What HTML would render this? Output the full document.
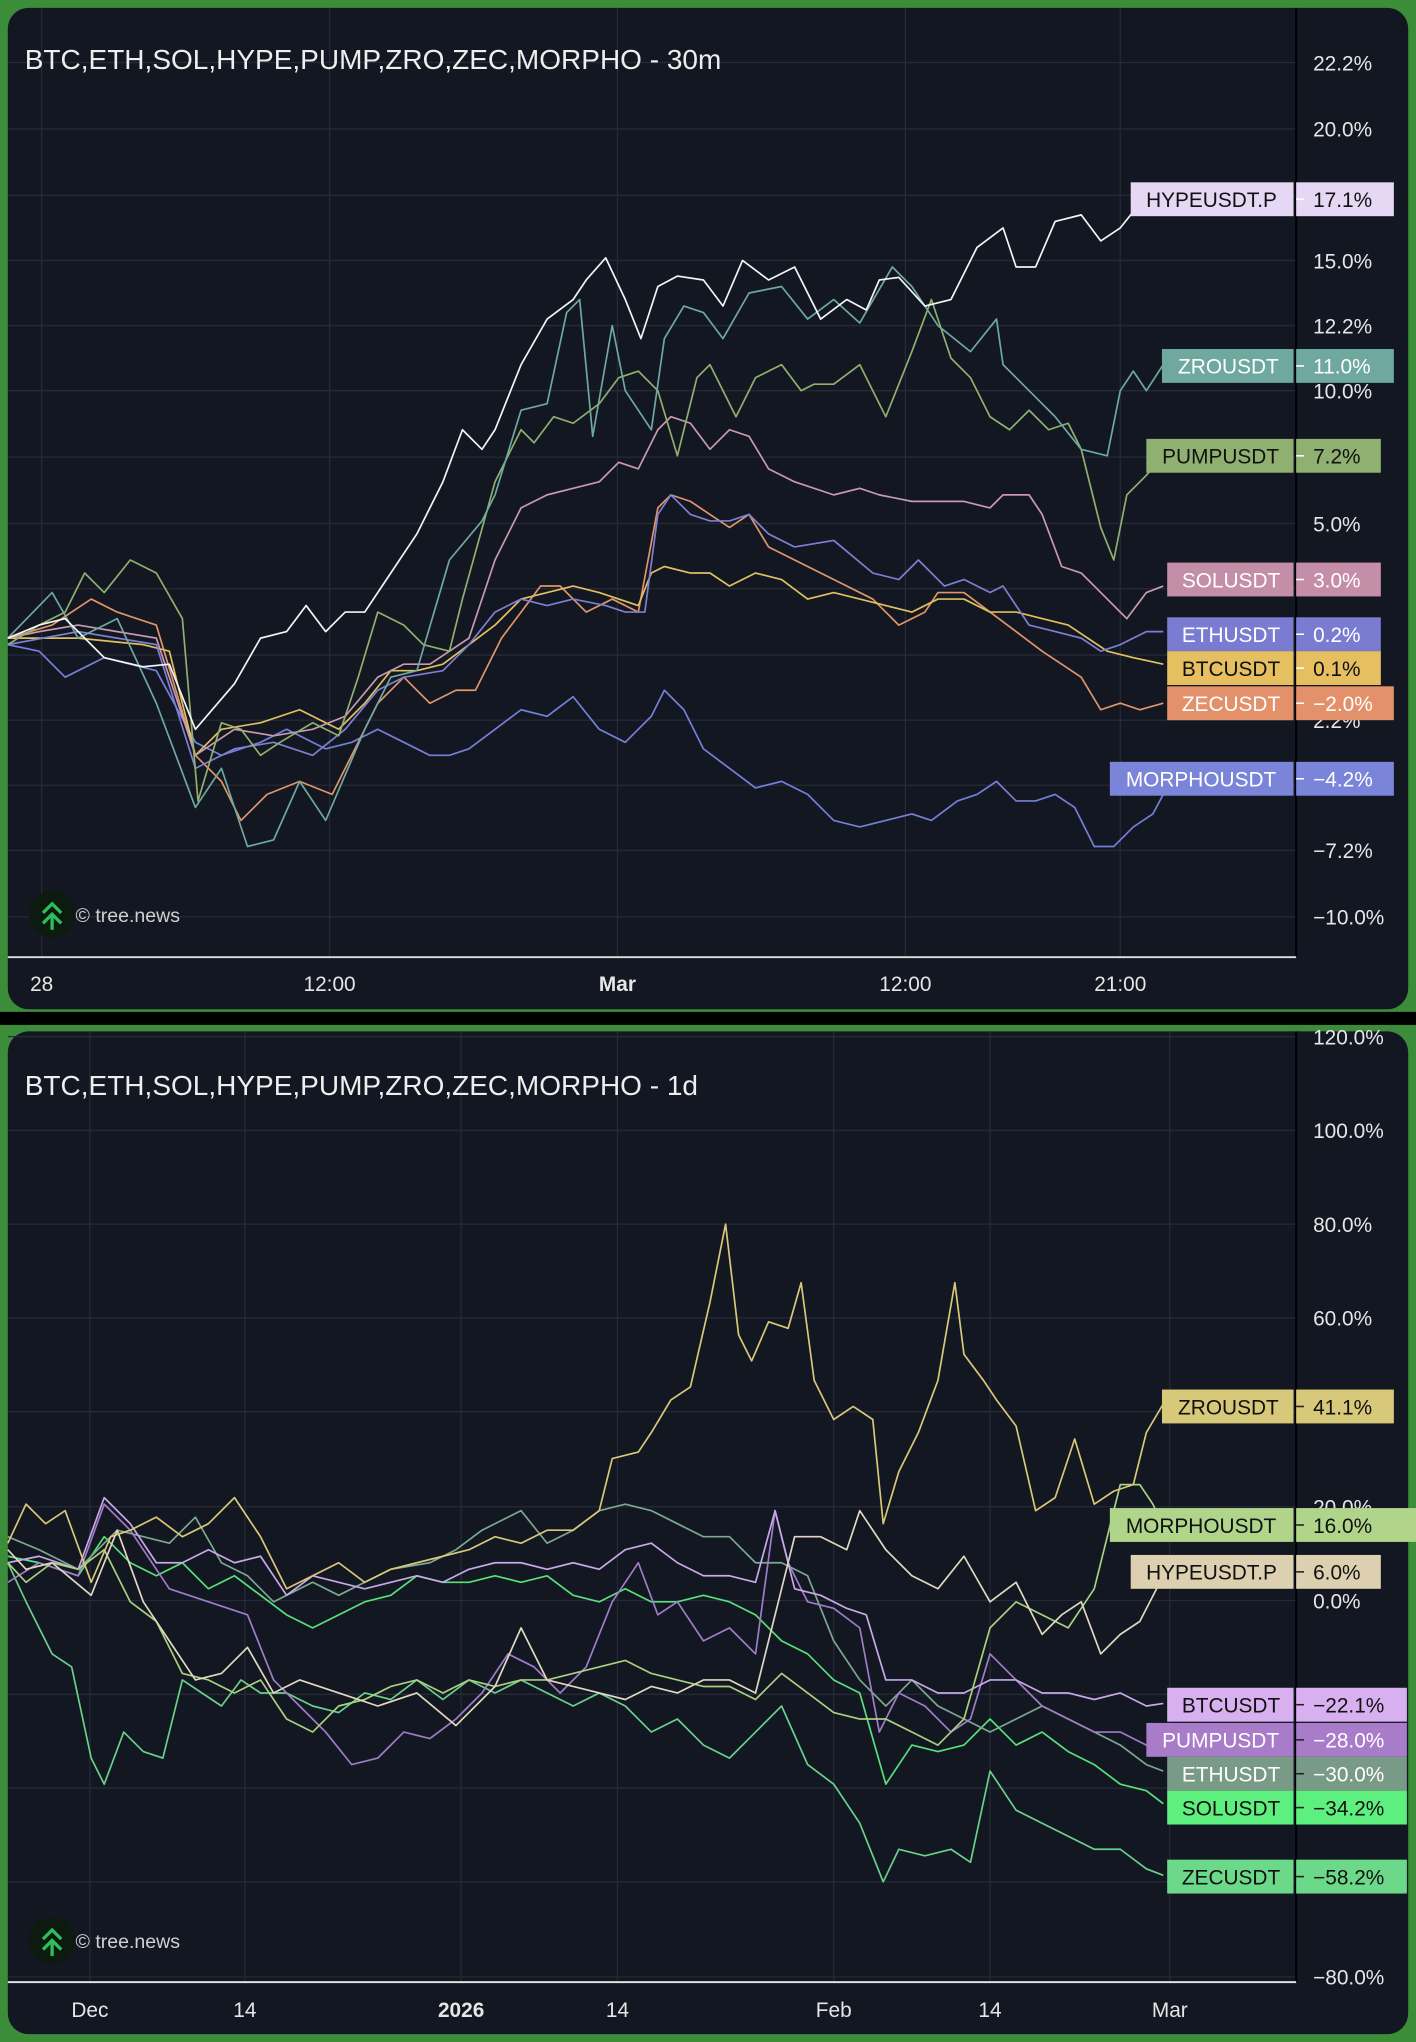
<!DOCTYPE html>
<html><head><meta charset="utf-8"><style>
html,body{margin:0;padding:0;background:#3b8d3a;}
svg{display:block}
text{font-family:"Liberation Sans",sans-serif;}
</style></head><body>
<svg width="1416" height="2042" viewBox="0 0 1087 1568" preserveAspectRatio="none" xmlns="http://www.w3.org/2000/svg">
<rect x="0" y="0" width="1087" height="1568" fill="#3b8d3a"/>
<rect x="0" y="777" width="1087" height="10" fill="#000"/>
<rect x="6" y="6" width="1075" height="769" rx="16" fill="#131722"/>
<rect x="6" y="792" width="1075" height="770" rx="16" fill="#131722"/>

<g stroke="#262a36" stroke-width="1">
<line x1="6" y1="48" x2="995" y2="48"/><line x1="6" y1="99" x2="995" y2="99"/><line x1="6" y1="150" x2="995" y2="150"/><line x1="6" y1="200" x2="995" y2="200"/><line x1="6" y1="250" x2="995" y2="250"/><line x1="6" y1="300" x2="995" y2="300"/><line x1="6" y1="351" x2="995" y2="351"/><line x1="6" y1="402" x2="995" y2="402"/><line x1="6" y1="452" x2="995" y2="452"/><line x1="6" y1="503" x2="995" y2="503"/><line x1="6" y1="553" x2="995" y2="553"/><line x1="6" y1="603" x2="995" y2="603"/><line x1="6" y1="653" x2="995" y2="653"/><line x1="6" y1="704" x2="995" y2="704"/>
<line x1="32" y1="6" x2="32" y2="735"/><line x1="253" y1="6" x2="253" y2="735"/><line x1="474" y1="6" x2="474" y2="735"/><line x1="695" y1="6" x2="695" y2="735"/><line x1="860" y1="6" x2="860" y2="735"/>
</g>
<line x1="995" y1="6" x2="995" y2="735" stroke="#000" stroke-width="1.5"/>
<line x1="6" y1="735" x2="995" y2="735" stroke="#e0e0e0" stroke-width="1.5"/>
<g fill="#e6e6e6" font-size="16">
<text x="1008" y="54">22.2%</text><text x="1008" y="105">20.0%</text><text x="1008" y="206">15.0%</text><text x="1008" y="256">12.2%</text><text x="1008" y="306">10.0%</text><text x="1008" y="408">5.0%</text><text x="1008" y="559">2.2%</text><text x="1008" y="659">−7.2%</text><text x="1008" y="710">−10.0%</text>
<g text-anchor="middle"><text x="32" y="761">28</text><text x="253" y="761">12:00</text><text x="474" y="761" font-weight="bold">Mar</text><text x="695" y="761">12:00</text><text x="860" y="761">21:00</text></g>
</g>
<text x="19" y="53" fill="#eee" font-size="21.5">BTC,ETH,SOL,HYPE,PUMP,ZRO,ZEC,MORPHO - 30m</text>

<g fill="none" stroke-width="1.3" stroke-linejoin="round">
<polyline stroke="#7480d8" points="6,495 30,500 50,520 80,505 100,510 120,515 150,570 170,580 200,570 220,560 250,575 270,570 290,560 310,570 330,580 345,580 360,575 380,560 400,545 420,550 440,535 460,560 480,570 500,550 510,530 525,545 540,575 560,590 580,605 600,600 620,610 640,630 660,635 680,630 700,625 715,630 735,615 750,610 765,600 780,615 795,615 810,610 825,620 840,650 855,650 870,635 885,625 893,610"/>
<polyline stroke="#e0956a" points="6,490 40,480 70,460 90,470 120,480 150,580 170,600 185,630 205,610 230,600 255,610 270,580 290,540 310,520 330,540 350,530 365,530 385,490 400,470 415,450 430,450 450,470 470,460 490,470 505,390 515,380 530,385 545,395 560,405 575,395 590,420 610,430 630,440 650,450 670,460 690,480 710,470 720,455 740,455 760,470 780,485 800,500 815,510 830,520 845,545 860,540 875,545 893,540"/>
<polyline stroke="#e0c060" points="6,490 60,490 110,495 130,500 150,580 170,560 200,555 230,545 260,560 280,540 300,515 320,515 340,510 360,495 380,480 400,460 420,455 440,450 460,455 475,460 490,465 500,440 510,435 530,440 545,440 560,450 580,440 600,445 620,460 640,455 660,460 680,465 700,470 720,460 740,460 760,470 780,470 800,475 820,480 835,490 850,500 870,505 893,510"/>
<polyline stroke="#7d7fd0" points="6,495 60,485 90,490 120,495 150,590 180,575 210,570 240,580 265,560 290,530 310,520 340,515 360,495 380,470 400,460 420,465 440,460 465,465 480,470 495,470 505,395 515,380 530,395 545,400 560,400 575,395 590,410 610,420 640,415 670,440 690,445 705,430 725,450 740,445 760,455 770,450 790,480 810,485 830,490 845,500 860,495 880,485 893,485"/>
<polyline stroke="#c79ab0" points="6,490 30,485 60,480 90,485 120,490 150,580 180,560 210,565 240,560 265,550 290,520 310,510 330,510 345,500 360,490 380,430 400,390 420,380 440,375 460,370 475,355 490,360 505,330 515,320 530,325 545,345 560,330 575,335 590,360 610,370 640,380 660,375 675,380 700,385 720,385 740,385 760,390 770,380 790,380 800,395 815,435 830,440 850,460 865,475 880,455 893,450"/>
<polyline stroke="#8fb06e" points="6,495 30,480 50,470 65,440 80,455 100,430 120,440 140,475 152,615 170,555 185,560 200,580 215,570 240,555 260,565 275,520 290,470 310,480 325,495 345,500 355,460 380,370 400,330 410,340 425,320 440,325 460,310 475,290 490,285 505,300 520,350 535,290 545,280 565,320 580,290 600,280 615,300 625,295 640,295 660,280 680,320 700,270 715,230 730,275 745,290 760,320 775,330 790,315 805,330 820,325 830,345 845,405 855,430 865,380 880,365 893,350"/>
<polyline stroke="#6fa8a0" points="6,490 40,455 60,490 90,475 120,540 150,620 170,590 190,650 210,645 230,600 250,630 280,560 300,520 320,515 345,430 370,400 380,380 400,315 420,310 435,240 445,230 455,335 470,250 480,300 500,330 510,260 525,235 540,240 555,260 575,225 600,220 620,245 640,230 660,248 685,205 700,220 720,250 745,270 765,245 770,280 790,300 810,320 830,345 850,350 860,300 870,285 880,300 893,280"/>
<polyline stroke="#f4f4f4" points="6,490 30,480 50,475 80,505 110,512 130,510 150,560 180,525 200,490 220,485 235,465 250,485 265,470 280,470 300,440 320,410 340,370 355,330 370,345 380,330 400,280 420,245 440,230 450,215 465,198 480,230 492,260 505,220 520,212 540,215 555,235 570,200 590,215 610,205 630,245 650,230 665,238 675,215 690,213 710,235 730,230 750,190 770,175 780,205 795,205 810,170 830,165 845,185 860,175 880,150 893,152"/>
</g>

<g font-size="16">
<rect x="868" y="140" width="125" height="26" fill="#e6d8f5"/><rect x="995" y="140" width="75" height="26" fill="#e6d8f5"/><text x="930" y="159" text-anchor="middle" fill="#111">HYPEUSDT.P</text><text x="1008" y="159" fill="#111">17.1%</text>
<rect x="892" y="268" width="101" height="26" fill="#6ea89e"/><rect x="995" y="268" width="75" height="26" fill="#6ea89e"/><text x="943" y="287" text-anchor="middle" fill="#fff">ZROUSDT</text><text x="1008" y="287" fill="#fff">11.0%</text>
<rect x="880" y="337" width="113" height="26" fill="#8fb070"/><rect x="995" y="337" width="65" height="26" fill="#8fb070"/><text x="937" y="356" text-anchor="middle" fill="#111">PUMPUSDT</text><text x="1008" y="356" fill="#111">7.2%</text>
<rect x="896" y="432" width="97" height="26" fill="#c48ea8"/><rect x="995" y="432" width="65" height="26" fill="#c48ea8"/><text x="945" y="451" text-anchor="middle" fill="#fff">SOLUSDT</text><text x="1008" y="451" fill="#fff">3.0%</text>
<rect x="896" y="474" width="97" height="26" fill="#7a7cd2"/><rect x="995" y="474" width="65" height="26" fill="#7a7cd2"/><text x="945" y="493" text-anchor="middle" fill="#fff">ETHUSDT</text><text x="1008" y="493" fill="#fff">0.2%</text>
<rect x="896" y="500" width="97" height="26" fill="#e6c060"/><rect x="995" y="500" width="65" height="26" fill="#e6c060"/><text x="945" y="519" text-anchor="middle" fill="#111">BTCUSDT</text><text x="1008" y="519" fill="#111">0.1%</text>
<rect x="896" y="527" width="97" height="26" fill="#e3916a"/><rect x="995" y="527" width="75" height="26" fill="#e3916a"/><text x="945" y="546" text-anchor="middle" fill="#fff">ZECUSDT</text><text x="1008" y="546" fill="#fff">−2.0%</text>
<rect x="852" y="585" width="141" height="26" fill="#7a84d8"/><rect x="995" y="585" width="75" height="26" fill="#7a84d8"/><text x="922" y="604" text-anchor="middle" fill="#fff">MORPHOUSDT</text><text x="1008" y="604" fill="#fff">−4.2%</text>
<g stroke="#fff" stroke-width="1.2"><line x1="995" y1="153" x2="1001" y2="153"/><line x1="995" y1="281" x2="1001" y2="281"/><line x1="995" y1="350" x2="1001" y2="350"/><line x1="995" y1="445" x2="1001" y2="445"/><line x1="995" y1="487" x2="1001" y2="487"/><line x1="995" y1="513" x2="1001" y2="513"/><line x1="995" y1="540" x2="1001" y2="540"/><line x1="995" y1="598" x2="1001" y2="598"/></g>
</g>

<g>
<circle cx="40" cy="702" r="18" fill="#0c1a10"/>
<polyline points="33,701 40,694 47,701" fill="none" stroke="#2fbf5a" stroke-width="2.5"/>
<polyline points="33,709 40,702 47,709" fill="none" stroke="#2fbf5a" stroke-width="2.5"/>
<line x1="40" y1="703" x2="40" y2="714" stroke="#2fbf5a" stroke-width="2.5"/>
<text x="58" y="708" fill="#d0d0d0" font-size="15">© tree.news</text>
</g>

<g stroke="#262a36" stroke-width="1">
<line x1="6" y1="796" x2="995" y2="796"/><line x1="6" y1="868" x2="995" y2="868"/><line x1="6" y1="940" x2="995" y2="940"/><line x1="6" y1="1012" x2="995" y2="1012"/><line x1="6" y1="1084" x2="995" y2="1084"/><line x1="6" y1="1157" x2="995" y2="1157"/><line x1="6" y1="1229" x2="995" y2="1229"/><line x1="6" y1="1301" x2="995" y2="1301"/><line x1="6" y1="1373" x2="995" y2="1373"/><line x1="6" y1="1445" x2="995" y2="1445"/><line x1="6" y1="1518" x2="995" y2="1518"/>
<line x1="69" y1="792" x2="69" y2="1522"/><line x1="188" y1="792" x2="188" y2="1522"/><line x1="354" y1="792" x2="354" y2="1522"/><line x1="474" y1="792" x2="474" y2="1522"/><line x1="640" y1="792" x2="640" y2="1522"/><line x1="760" y1="792" x2="760" y2="1522"/><line x1="898" y1="792" x2="898" y2="1522"/>
</g>
<line x1="995" y1="792" x2="995" y2="1522" stroke="#000" stroke-width="1.5"/>
<line x1="6" y1="1522" x2="995" y2="1522" stroke="#e0e0e0" stroke-width="1.5"/>
<g fill="#e6e6e6" font-size="16">
<text x="1008" y="802">120.0%</text><text x="1008" y="874">100.0%</text><text x="1008" y="946">80.0%</text><text x="1008" y="1018">60.0%</text><text x="1008" y="1163">20.0%</text><text x="1008" y="1235">0.0%</text><text x="1008" y="1524">−80.0%</text>
<g text-anchor="middle"><text x="69" y="1549">Dec</text><text x="188" y="1549">14</text><text x="354" y="1549" font-weight="bold">2026</text><text x="474" y="1549">14</text><text x="640" y="1549">Feb</text><text x="760" y="1549">14</text><text x="898" y="1549">Mar</text></g>
</g>
<text x="19" y="841" fill="#eee" font-size="21.5">BTC,ETH,SOL,HYPE,PUMP,ZRO,ZEC,MORPHO - 1d</text>

<g fill="none" stroke-width="1.3" stroke-linejoin="round">
<polyline stroke="#6ad08a" points="6,1200 20,1230 40,1270 55,1280 70,1350 80,1370 95,1330 110,1345 125,1350 140,1290 155,1300 170,1310 185,1290 200,1300 220,1300 240,1310 260,1315 280,1300 300,1305 320,1290 340,1305 360,1290 380,1300 400,1290 420,1300 440,1310 460,1300 480,1310 500,1330 520,1320 540,1340 560,1350 580,1330 600,1310 620,1355 640,1370 660,1400 678,1445 690,1420 710,1425 730,1420 745,1430 760,1360 780,1390 800,1400 820,1410 840,1420 860,1420 880,1435 893,1440"/>
<polyline stroke="#58e07a" points="6,1195 30,1200 60,1210 80,1180 100,1200 120,1210 140,1200 160,1220 180,1210 200,1225 220,1240 240,1250 260,1240 280,1230 300,1225 320,1210 340,1215 360,1215 380,1210 400,1215 420,1210 440,1225 460,1230 480,1220 500,1230 520,1230 540,1225 560,1230 580,1240 600,1260 620,1270 640,1290 660,1300 680,1370 700,1340 720,1345 740,1340 760,1320 780,1340 800,1330 820,1345 840,1355 860,1370 880,1375 893,1385"/>
<polyline stroke="#7ca890" points="6,1180 30,1190 60,1205 90,1175 110,1180 130,1185 150,1165 170,1200 190,1210 210,1230 240,1215 260,1225 280,1215 300,1205 330,1200 350,1190 370,1175 400,1160 420,1185 440,1175 460,1160 480,1155 500,1160 520,1170 540,1180 560,1180 580,1200 600,1200 620,1210 640,1260 660,1290 680,1310 700,1290 720,1310 740,1320 760,1330 780,1320 800,1310 820,1320 840,1330 860,1340 880,1355 893,1360"/>
<polyline stroke="#a07cc8" points="6,1215 30,1200 60,1210 80,1155 100,1175 130,1220 160,1230 190,1240 210,1290 230,1310 250,1330 270,1355 290,1350 310,1330 330,1335 350,1320 370,1300 390,1270 410,1280 430,1300 450,1280 470,1230 490,1200 505,1240 520,1230 540,1260 560,1250 580,1270 595,1160 605,1200 620,1230 640,1235 660,1250 675,1330 690,1300 710,1310 730,1330 745,1320 760,1270 780,1290 800,1310 820,1320 840,1330 860,1330 880,1340 893,1330"/>
<polyline stroke="#c8a8e8" points="6,1200 30,1195 60,1205 80,1150 100,1170 120,1200 140,1200 160,1190 180,1200 200,1195 220,1225 240,1210 260,1215 280,1220 300,1215 320,1210 340,1215 360,1205 380,1200 400,1200 420,1205 440,1200 460,1205 480,1190 500,1185 520,1200 540,1210 560,1210 580,1215 595,1160 610,1220 630,1225 650,1235 665,1240 680,1290 700,1290 720,1300 740,1300 760,1290 780,1290 800,1300 820,1300 840,1305 860,1300 880,1310 893,1308"/>
<polyline stroke="#a8d080" points="6,1200 20,1215 40,1200 60,1205 80,1190 100,1230 120,1245 140,1285 160,1290 180,1300 200,1290 220,1320 240,1330 260,1310 280,1305 300,1295 320,1290 340,1300 360,1290 380,1295 400,1290 420,1290 440,1285 460,1280 480,1275 500,1285 520,1290 540,1295 560,1295 580,1305 600,1285 620,1300 640,1315 660,1320 680,1320 700,1330 720,1340 740,1320 760,1250 780,1230 800,1240 820,1250 840,1220 860,1140 875,1140 885,1155 893,1172"/>
<polyline stroke="#e0d8c0" points="6,1190 20,1205 40,1200 70,1225 90,1175 110,1230 130,1260 150,1290 170,1285 190,1265 210,1300 230,1290 260,1300 290,1310 320,1300 350,1325 380,1295 400,1250 420,1290 440,1295 460,1300 480,1305 500,1295 520,1300 540,1290 560,1290 580,1300 600,1220 610,1180 630,1180 650,1190 660,1160 680,1190 700,1210 720,1220 740,1195 760,1230 780,1215 800,1255 815,1240 830,1230 845,1270 860,1255 875,1245 893,1210"/>
<polyline stroke="#d8c878" points="6,1185 20,1155 35,1170 50,1160 70,1215 85,1180 100,1175 120,1165 140,1180 160,1170 180,1150 200,1180 220,1220 240,1210 260,1200 280,1215 300,1205 320,1200 340,1195 360,1190 380,1180 400,1185 420,1175 440,1175 460,1160 470,1120 490,1115 500,1100 515,1075 530,1065 545,1000 557,940 567,1025 577,1045 590,1015 605,1020 615,985 625,1060 640,1090 655,1080 670,1090 678,1170 690,1130 705,1100 720,1060 733,985 740,1040 755,1060 765,1075 780,1095 795,1160 810,1150 825,1105 840,1155 855,1145 870,1140 880,1100 893,1078"/>
</g>

<g font-size="16">
<rect x="892" y="1067" width="101" height="26" fill="#d8c87a"/><rect x="995" y="1067" width="75" height="26" fill="#d8c87a"/><text x="943" y="1086" text-anchor="middle" fill="#111">ZROUSDT</text><text x="1008" y="1086" fill="#111">41.1%</text>
<rect x="852" y="1158" width="141" height="26" fill="#b0d48a"/><rect x="995" y="1158" width="92" height="26" fill="#b0d48a"/><text x="922" y="1177" text-anchor="middle" fill="#111">MORPHOUSDT</text><text x="1008" y="1177" fill="#111">16.0%</text>
<rect x="868" y="1194" width="125" height="26" fill="#ddd0b0"/><rect x="995" y="1194" width="65" height="26" fill="#ddd0b0"/><text x="930" y="1213" text-anchor="middle" fill="#111">HYPEUSDT.P</text><text x="1008" y="1213" fill="#111">6.0%</text>
<rect x="896" y="1296" width="97" height="26" fill="#d8b0f0"/><rect x="995" y="1296" width="85" height="26" fill="#d8b0f0"/><text x="945" y="1315" text-anchor="middle" fill="#111">BTCUSDT</text><text x="1008" y="1315" fill="#111">−22.1%</text>
<rect x="880" y="1323" width="113" height="26" fill="#a87cc8"/><rect x="995" y="1323" width="85" height="26" fill="#a87cc8"/><text x="937" y="1342" text-anchor="middle" fill="#fff">PUMPUSDT</text><text x="1008" y="1342" fill="#fff">−28.0%</text>
<rect x="896" y="1349" width="97" height="26" fill="#7a9a88"/><rect x="995" y="1349" width="85" height="26" fill="#7a9a88"/><text x="945" y="1368" text-anchor="middle" fill="#fff">ETHUSDT</text><text x="1008" y="1368" fill="#fff">−30.0%</text>
<rect x="896" y="1375" width="97" height="26" fill="#5ef07e"/><rect x="995" y="1375" width="85" height="26" fill="#5ef07e"/><text x="945" y="1394" text-anchor="middle" fill="#111">SOLUSDT</text><text x="1008" y="1394" fill="#111">−34.2%</text>
<rect x="896" y="1428" width="97" height="26" fill="#6cd88a"/><rect x="995" y="1428" width="85" height="26" fill="#6cd88a"/><text x="945" y="1447" text-anchor="middle" fill="#111">ZECUSDT</text><text x="1008" y="1447" fill="#111">−58.2%</text>
<g stroke="#222" stroke-width="1.2"><line x1="995" y1="1080" x2="1001" y2="1080"/><line x1="995" y1="1171" x2="1001" y2="1171"/><line x1="995" y1="1207" x2="1001" y2="1207"/><line x1="995" y1="1309" x2="1001" y2="1309"/><line x1="995" y1="1336" x2="1001" y2="1336"/><line x1="995" y1="1362" x2="1001" y2="1362"/><line x1="995" y1="1388" x2="1001" y2="1388"/><line x1="995" y1="1441" x2="1001" y2="1441"/></g>
</g>

<g>
<circle cx="40" cy="1490" r="18" fill="#0c1a10"/>
<polyline points="33,1489 40,1482 47,1489" fill="none" stroke="#2fbf5a" stroke-width="2.5"/>
<polyline points="33,1497 40,1490 47,1497" fill="none" stroke="#2fbf5a" stroke-width="2.5"/>
<line x1="40" y1="1491" x2="40" y2="1502" stroke="#2fbf5a" stroke-width="2.5"/>
<text x="58" y="1496" fill="#d0d0d0" font-size="15">© tree.news</text>
</g>
</svg>
</body></html>
